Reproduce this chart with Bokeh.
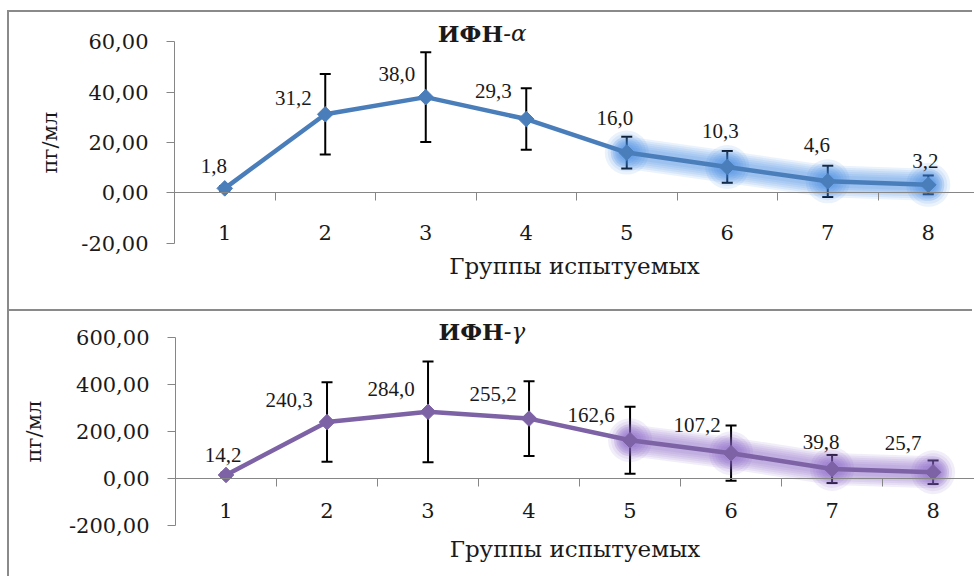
import numpy as np
from bokeh.plotting import figure
from bokeh.layouts import column, row
from bokeh.models import (ColumnDataSource, Whisker, TeeHead, FixedTicker, LinearAxis,
                          CustomJSTickFormatter, Range1d, Label, Spacer)
from bokeh.embed import file_html
from bokeh.resources import INLINE

# ---------------- data ----------------
groups = [1, 2, 3, 4, 5, 6, 7, 8]
group_labels = ["1", "2", "3", "4", "5", "6", "7", "8"]
x_title = "Группы испытуемых"
y_title = "пг/мл"

ifn_a_title = ("ИФН", "-α")
ifn_a = [1.8, 31.2, 38.0, 29.3, 16.0, 10.3, 4.6, 3.2]
ifn_a_err = [0.9, 16.0, 17.8, 12.2, 6.3, 6.3, 6.2, 3.7]
ifn_a_ticks = [-20, 0, 20, 40, 60]

ifn_g_title = ("ИФН", "-γ")
ifn_g = [14.2, 240.3, 284.0, 255.2, 162.6, 107.2, 39.8, 25.7]
ifn_g_err = [9.0, 170.0, 215.0, 160.0, 143.0, 118.0, 60.0, 50.0]
ifn_g_ticks = [-200, 0, 200, 400, 600]

glow_from_group = 5

# ---------------- style ----------------
FONT = "DejaVu Serif"
TEXT = "#1a1a1a"
AXIS = "#868686"
FS = "21px"
FS_TITLE = "23px"
FS_XTITLE = "23px"


def panel(vals, errs, ticks, pad, title, color, glow, height, left, top, bottom,
          x_end, label_dx, label_dy, tick_standoff, xlabel_standoff, ylabel_standoff,
          title_x, title_y):
    p = figure(width=965, height=height,
               x_range=Range1d(0.5, x_end),
               y_range=Range1d(ticks[0] - pad, ticks[-1] + pad),
               output_backend="svg", toolbar_location=None, x_axis_location=None,
               min_border_left=left, min_border_right=0,
               min_border_top=top, min_border_bottom=bottom,
               background_fill_color="white", border_fill_color="white",
               styles={"box-shadow": "-2px -2px 0 0 #8a8a8a"})
    p.outline_line_color = None
    p.grid.visible = False

    # y axis
    ya = p.yaxis[0]
    ya.bounds = (ticks[0], ticks[-1])
    ya.ticker = FixedTicker(ticks=ticks)
    ya.formatter = CustomJSTickFormatter(code="return tick.toFixed(2).replace('.', ',')")
    ya.axis_line_color = AXIS
    ya.major_tick_line_color = AXIS
    ya.minor_tick_line_color = None
    ya.major_tick_out = 8
    ya.major_tick_in = 0
    ya.major_label_standoff = 18
    ya.major_label_text_font = FONT
    ya.major_label_text_font_size = FS
    ya.major_label_text_color = TEXT
    ya.axis_label = y_title
    ya.axis_label_text_font = FONT
    ya.axis_label_text_font_size = FS
    ya.axis_label_text_font_style = "normal"
    ya.axis_label_text_color = TEXT
    ya.axis_label_standoff = ylabel_standoff

    # x axis line at zero with ticks between categories
    bounds = [g + 0.5 for g in groups[:-1]]
    xa_ticks = LinearAxis(ticker=FixedTicker(ticks=bounds), fixed_location=0,
                          axis_line_color=AXIS, major_tick_line_color=AXIS,
                          minor_tick_line_color=None, major_tick_out=8, major_tick_in=0,
                          major_label_text_alpha=0, major_label_text_font_size="1px")
    p.add_layout(xa_ticks, "below")
    xa_lab = LinearAxis(ticker=FixedTicker(ticks=groups), fixed_location=0,
                        axis_line_color=None, major_tick_line_color=None,
                        minor_tick_line_color=None, major_tick_out=0, major_tick_in=0,
                        major_label_standoff=tick_standoff,
                        major_label_overrides={g: l for g, l in zip(groups, group_labels)},
                        major_label_text_font=FONT, major_label_text_font_size=FS,
                        major_label_text_color=TEXT)
    p.add_layout(xa_lab, "below")
    # axis title below the frame
    xa_title = LinearAxis(ticker=FixedTicker(ticks=[]), axis_line_color=None,
                          major_tick_line_color=None, minor_tick_line_color=None,
                          major_tick_out=0, major_tick_in=0, major_label_standoff=0,
                          axis_label=x_title, axis_label_text_font=FONT,
                          axis_label_text_font_size=FS_XTITLE,
                          axis_label_text_font_style="normal",
                          axis_label_text_color=TEXT, axis_label_standoff=xlabel_standoff)
    p.add_layout(xa_title, "below")

    src = ColumnDataSource(dict(
        x=groups, y=vals,
        upper=[v + e for v, e in zip(vals, errs)],
        lower=[v - e for v, e in zip(vals, errs)],
        label=[f"{v:.1f}".replace(".", ",") for v in vals],
        dx=label_dx, dy=label_dy,
    ))

    w = Whisker(source=src, base="x", upper="upper", lower="lower",
                line_color="black", line_width=2,
                upper_head=TeeHead(size=11, line_color="black", line_width=2),
                lower_head=TeeHead(size=11, line_color="black", line_width=2))
    p.add_layout(w)

    i0 = groups.index(glow_from_group)
    gx, gy = groups[i0:], vals[i0:]
    for lw in (32, 28, 24, 20, 16, 12):
        p.line(gx, gy, line_width=lw, line_color=glow, line_alpha=0.11,
               line_join="round", line_cap="round")
    for s in (44, 38, 32, 27, 22, 17):
        p.scatter(gx, gy, size=s, marker="circle", fill_color=glow, fill_alpha=0.11,
                  line_color=None)

    p.line("x", "y", source=src, line_width=4.5, line_color=color, line_join="round")
    p.scatter("x", "y", source=src, marker="square", angle=np.pi / 4, size=11,
              fill_color=color, line_color=color)

    p.text("x", "y", text="label", source=src, x_offset="dx", y_offset="dy",
           text_align="center", text_baseline="middle", text_font=FONT,
           text_font_size=FS, text_color=TEXT)

    p.add_layout(Label(x=title_x, y=title_y, text=title[0], text_font=FONT,
                       text_font_size=FS_TITLE, text_font_style="bold", text_color=TEXT,
                       text_align="right", text_baseline="middle"))
    p.add_layout(Label(x=title_x, y=title_y, text=title[1], text_font=FONT,
                       text_font_size=FS_TITLE, text_font_style="italic", text_color=TEXT,
                       text_align="left", text_baseline="middle"))
    return p


top = panel(ifn_a, ifn_a_err, ifn_a_ticks, 10, ifn_a_title, "#4A7EBB", "#3f87e6",
            height=299, left=165, top=4, bottom=43, x_end=8.46,
            label_dx=[-11, -32, -29, -33, -12, -7, -11, -3],
            label_dy=[-22, -16, -23, -28, -35, -36, -36, -24],
            tick_standoff=32, xlabel_standoff=-16, ylabel_standoff=16,
            title_x=3.77, title_y=63.4)

bot = panel(ifn_g, ifn_g_err, ifn_g_ticks, 100, ifn_g_title, "#7E62A6", "#8a62cc",
            height=267, left=166, top=3, bottom=30, x_end=8.41,
            label_dx=[-3, -38, -37, -36, -39, -34, -11, -30],
            label_dy=[-20, -22, -23, -25, -25, -28, -27, -29],
            tick_standoff=25, xlabel_standoff=-13, ylabel_standoff=20,
            title_x=3.75, title_y=628.7)

layout = column(Spacer(height=12, width=974),
                row(Spacer(width=9, height=299), top, spacing=0),
                row(Spacer(width=9, height=267), bot, spacing=0),
                spacing=0)

open("out.html", "w").write(file_html(layout, INLINE))
